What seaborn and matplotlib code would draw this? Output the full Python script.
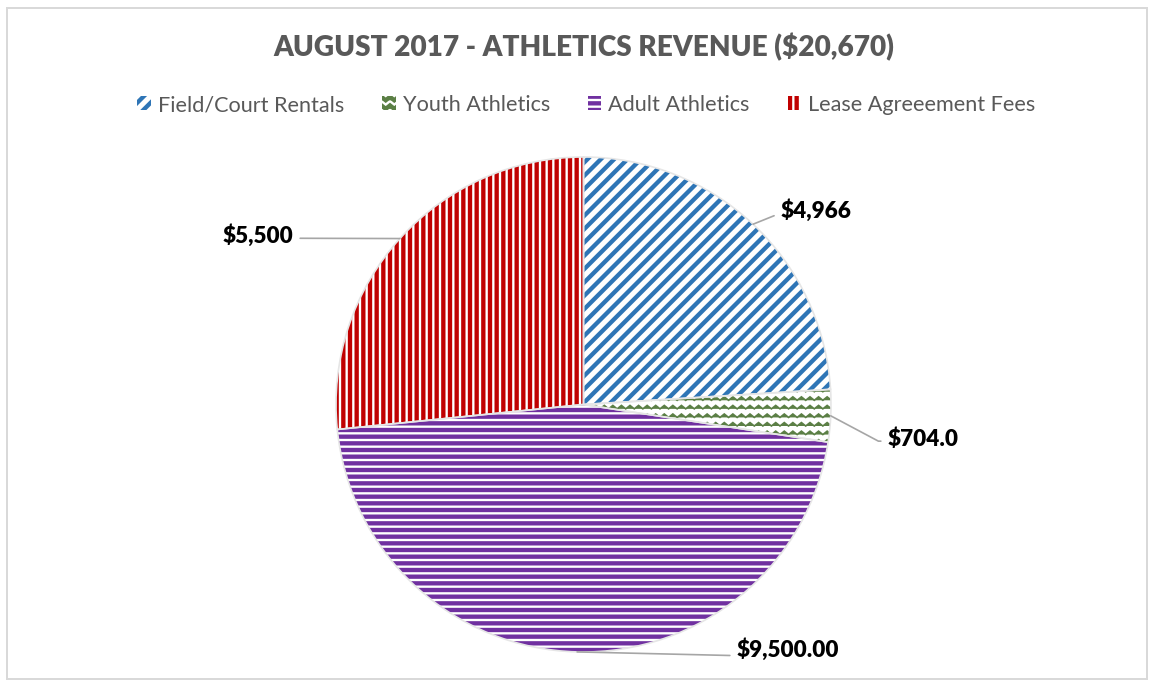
import warnings
import numpy as np
import matplotlib
matplotlib.use("Agg")
import matplotlib.pyplot as plt
import matplotlib.hatch as mhatch
from matplotlib.path import Path
from matplotlib.patches import Rectangle
import seaborn as sns

warnings.filterwarnings("ignore")

# ---------------- data ----------------
categories = ["Field/Court Rentals", "Youth Athletics", "Adult Athletics", "Lease Agreeement Fees"]
values = [4966, 704, 9500, 5500]
value_labels = ["$4,966", "$704.0", "$9,500.00", "$5,500"]
title = "AUGUST 2017 - ATHLETICS REVENUE ($20,670)"

hatch_colors = ["#2E75B6", "#5B7F45", "#7030A0", "#C00000"]
hatches = ["///", "z", "---", "|||"]
hatch_lws = [2.6, 1.0, 2.6, 2.6]


# ---------------- custom zigzag hatch ----------------
class ZigZagHatch(mhatch.HatchPatternBase):
    def __init__(self, hatch, density):
        n = hatch.count("z")
        self.num_rows = 14 * n
        self.num_periods = 14 * n
        self.num_vertices = self.num_rows * (2 * self.num_periods + 1)

    def set_vertices_and_codes(self, vertices, codes):
        nr, npd = self.num_rows, self.num_periods
        per_row = 2 * npd + 1
        step = 1.0 / nr
        xs = np.linspace(0.0, 1.0, per_row)
        amp = np.where(np.arange(per_row) % 2 == 0, -0.2, 0.2) * step
        for r in range(nr):
            y0 = (r + 0.5) * step
            sl = slice(r * per_row, (r + 1) * per_row)
            vertices[sl, 0] = xs
            vertices[sl, 1] = y0 + amp
            codes[r * per_row] = Path.MOVETO
            codes[r * per_row + 1:(r + 1) * per_row] = Path.LINETO


if ZigZagHatch not in mhatch._hatch_types:
    mhatch._hatch_types.append(ZigZagHatch)

# ---------------- style ----------------
sns.set_theme(style="white")
plt.rcParams["font.family"] = ["Lato", "DejaVu Sans"]
plt.rcParams["hatch.linewidth"] = 2.6

W, H, DPI = 1152, 681, 120
fig = plt.figure(figsize=(W / DPI, H / DPI), dpi=DPI)
fig.patch.set_facecolor("white")

# outer frame
fig.add_artist(Rectangle((7 / W, 1 - 679 / H), (1147 - 7) / W, (679 - 8) / H,
                         transform=fig.transFigure, fill=False,
                         edgecolor="#D9D9D9", linewidth=1.2))

cx, cy, R = 583.5, 404.5, 247.5
ax = fig.add_axes([(cx - R) / W, 1 - (cy + R) / H, 2 * R / W, 2 * R / H])

wedges, _ = ax.pie(values, startangle=90, counterclock=False, radius=1,
                   wedgeprops=dict(facecolor="white", linewidth=0))
for w, c, h, hl in zip(wedges, hatch_colors, hatches, hatch_lws):
    w.set_edgecolor(c)
    w.set_linewidth(0)
    w.set_hatch(h)
    if hasattr(w, "set_hatch_linewidth"):
        w.set_hatch_linewidth(hl)

# thin outline overlay
ax.pie(values, startangle=90, counterclock=False, radius=1,
       wedgeprops=dict(fill=False, edgecolor="#E6E6E6", linewidth=1.0))
ax.set_xlim(-1, 1)
ax.set_ylim(-1, 1)
ax.axis("off")


def px(xp, yp):
    return ((xp - cx) / R, (cy - yp) / R)


# label layout (pixel positions of text) and connector styles
label_pos = [px(781, 211), px(888, 439), px(737, 650), px(293, 236)]
label_ha = ["left", "left", "left", "right"]
relpos = [(0, 0.45), (0, 0.4), (0, 0.25), (1, 0.4)]
conn = ["angle,angleA=0,angleB=22,rad=0",
        "angle,angleA=0,angleB=-28,rad=0",
        "arc3,rad=0",
        "arc3,rad=0"]

for w, lab, pos, ha, rp, cs in zip(wedges, value_labels, label_pos, label_ha, relpos, conn):
    mid = np.deg2rad((w.theta1 + w.theta2) / 2)
    anchor = (np.cos(mid), np.sin(mid))
    ax.annotate(lab, xy=anchor, xytext=pos, ha=ha, va="center",
                fontsize=13.5, fontweight="heavy", color="black",
                annotation_clip=False,
                arrowprops=dict(arrowstyle="-", color="#A6A6A6", lw=1.0,
                                shrinkA=2, shrinkB=0, relpos=rp,
                                connectionstyle=cs))

fig.text(cx / W, 1 - 47 / H, title, ha="center", va="center",
         fontsize=16.8, fontweight="heavy", color="#595959")

leg = fig.legend(wedges, categories, loc="center",
                 bbox_to_anchor=(cx / W + 3 / W, 1 - 105 / H), ncol=4, frameon=False,
                 fontsize=13, handlelength=0.62, handleheight=0.62,
                 handletextpad=0.33, columnspacing=1.75, labelcolor="#595959")
for hnd in leg.legend_handles:
    hnd.set_linewidth(0)

fig.savefig("out.png", dpi=DPI, facecolor="white")
